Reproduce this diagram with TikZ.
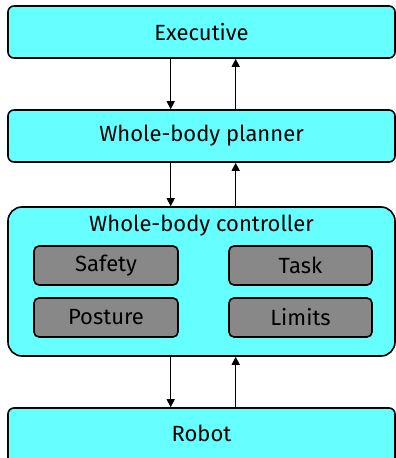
\documentclass[tikz,border=0pt]{standalone}
\usepackage{fontspec}
\setmainfont{Fira Sans}
\usetikzlibrary{arrows.meta}
\definecolor{boxcyan}{HTML}{66FFFF}
\definecolor{modgray}{HTML}{888888}
\tikzset{
  layer/.style={draw=black, line width=1.6pt, fill=boxcyan, rounded corners=6pt},
  module/.style={draw=black, line width=1.6pt, fill=modgray, rounded corners=5pt},
  lbl/.style={font=\fontsize{22}{26}\selectfont, inner sep=0pt},
  flow/.style={line width=1.4pt, -{Triangle[length=8pt,width=8pt]}},
}
\begin{document}
\begin{tikzpicture}[x=1pt,y=-1pt]
  \useasboundingbox (0,0) rectangle (396,458);
  \clip (0,0) rectangle (396,458);
  % layers of the stack
  \draw[layer] (8,6) rectangle (395,58);
  \node[lbl] (exec) at (201.5,32) {Executive};
  \draw[layer] (8,110) rectangle (395,162);
  \node[lbl] (plan) at (201.5,136) {Whole-body planner};
  \draw[layer, rounded corners=14pt] (8,207) rectangle (395,356);
  \node[lbl] (ctrl) at (201.5,226) {Whole-body controller};
  \draw[layer] (8,408) rectangle (395,480);
  \node[lbl] (robot) at (201.5,433) {Robot};
  % controller modules
  \draw[module] (34,246) rectangle (178,285);
  \node[lbl] (safety) at (106,265.5) {Safety};
  \draw[module] (229,246) rectangle (372,285);
  \node[lbl] (task) at (300.5,265.5) {Task};
  \draw[module] (34,298) rectangle (178,337);
  \node[lbl] (posture) at (106,317.5) {Posture};
  \draw[module] (229,298) rectangle (372,337);
  \node[lbl] (limits) at (300.5,317.5) {Limits};
  % commands down, feedback up
  \coordinate (a1) at (170.7,58.8);  \coordinate (b1) at (170.7,109.2);
  \coordinate (c1) at (235.7,109.2); \coordinate (d1) at (235.7,58.8);
  \coordinate (a2) at (170.7,162.8); \coordinate (b2) at (170.7,206.2);
  \coordinate (c2) at (235.7,206.2); \coordinate (d2) at (235.7,162.8);
  \coordinate (a3) at (170.7,356.8); \coordinate (b3) at (170.7,407.2);
  \coordinate (c3) at (235.7,407.2); \coordinate (d3) at (235.7,356.8);
  \draw[flow] (a1) -- (b1);
  \draw[flow] (c1) -- (d1);
  \draw[flow] (a2) -- (b2);
  \draw[flow] (c2) -- (d2);
  \draw[flow] (a3) -- (b3);
  \draw[flow] (c3) -- (d3);
\end{tikzpicture}
\end{document}
